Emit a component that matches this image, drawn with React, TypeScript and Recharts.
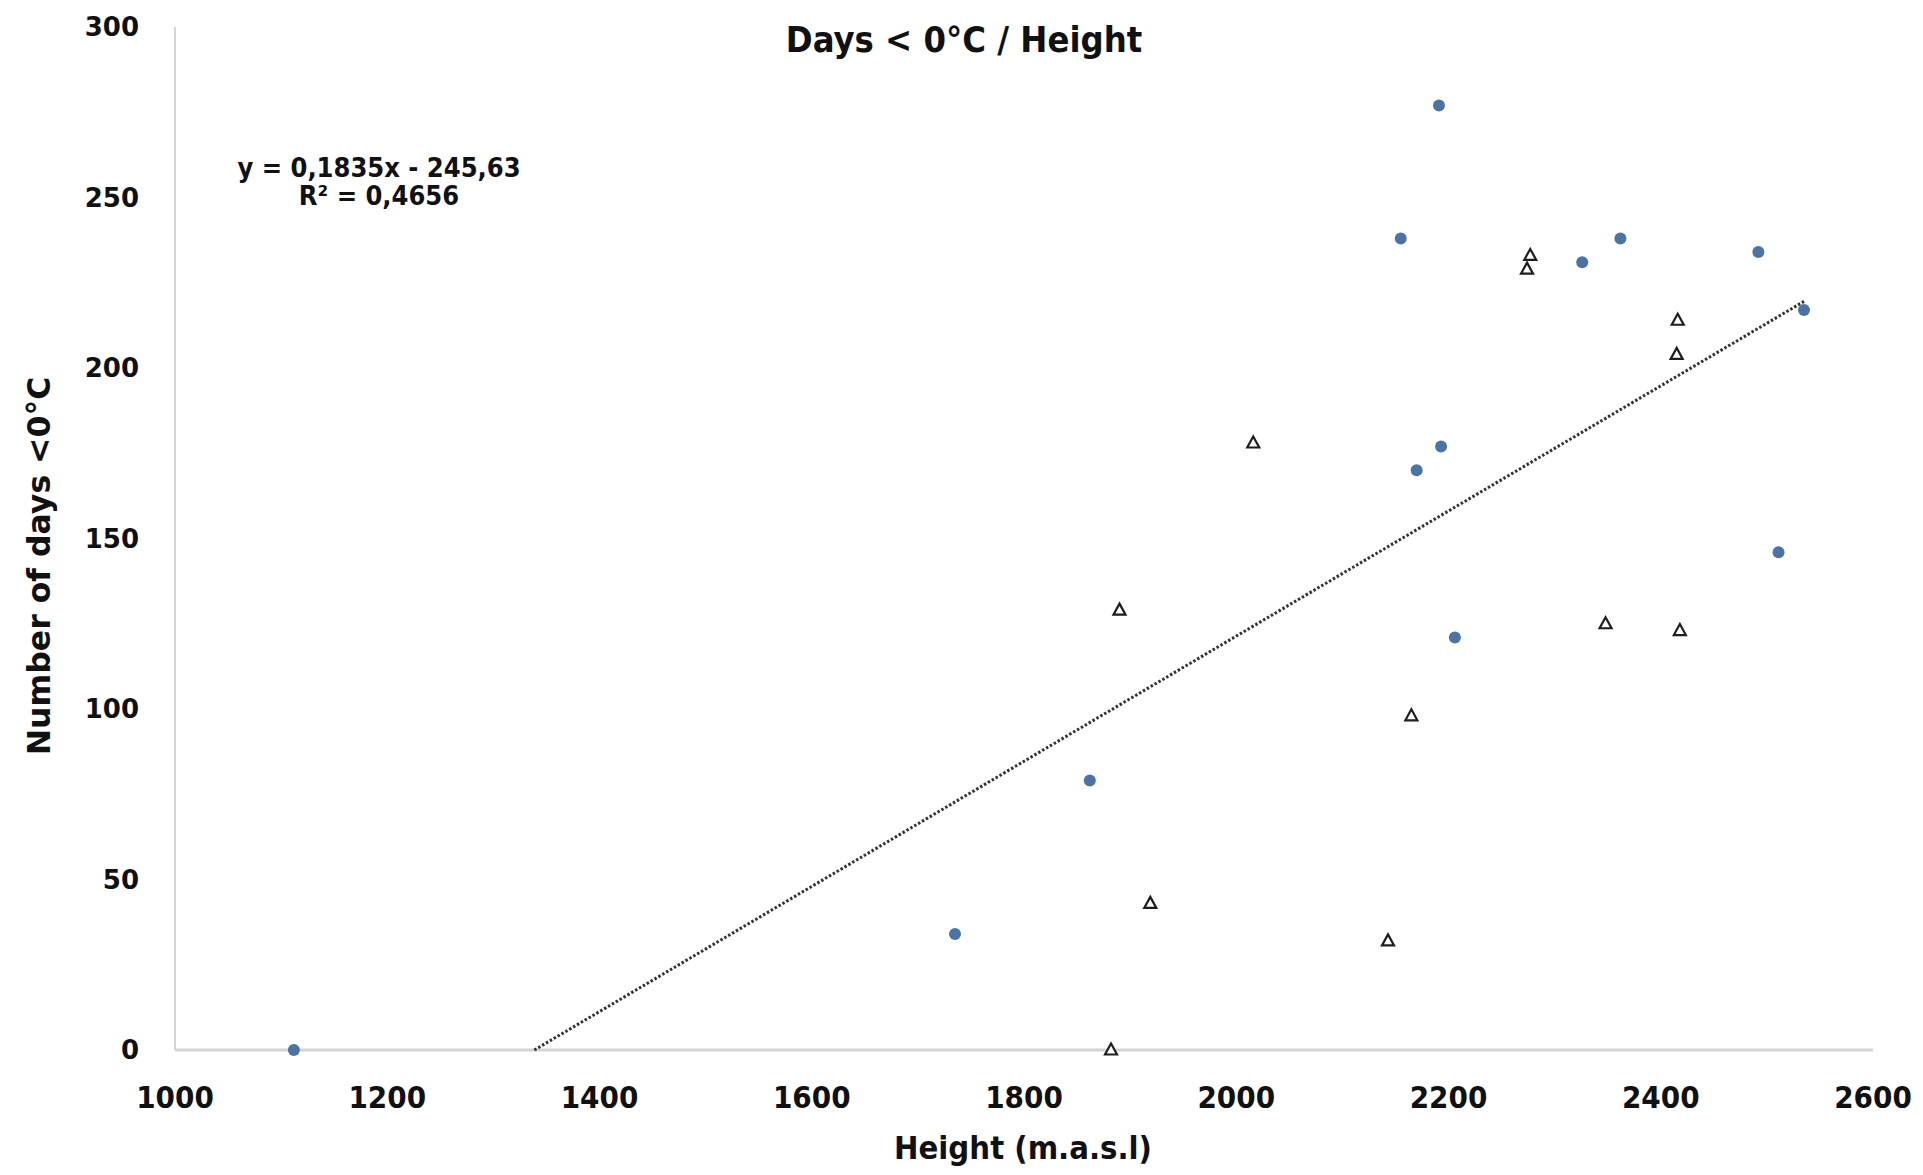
import { ScatterChart, Scatter, XAxis, YAxis } from "recharts";

// station heights (m.a.s.l) and number of days below 0°C
const circleHeights = [1112, 1735, 1862, 2155, 2191, 2170, 2193, 2206, 2326, 2362, 2492, 2511, 2535];
const circleDays = [0, 34, 79, 238, 277, 170, 177, 121, 231, 238, 234, 146, 217];

const triangleHeights = [1882, 1919, 1890, 2016, 2143, 2165, 2274, 2277, 2348, 2416, 2415, 2418];
const triangleDays = [0, 43, 129, 178, 32, 98, 229, 233, 125, 214, 204, 123];

// trendline from the displayed equation y = 0,1835x - 245,63
const trendSlope = 0.1835;
const trendIntercept = -245.63;
const trendRange = [1338.6, 2535];

const xTicks = [1000, 1200, 1400, 1600, 1800, 2000, 2200, 2400, 2600];
const yTicks = [0, 50, 100, 150, 200, 250, 300];

const circles = circleHeights.map((x, i) => ({ x, y: circleDays[i] }));
const triangles = triangleHeights.map((x, i) => ({ x, y: triangleDays[i] }));
const trend = trendRange.map((x) => ({ x, y: trendSlope * x + trendIntercept }));

const wide = "'DejaVu Sans', Verdana, sans-serif";
const narrow = "'DejaVu Sans Condensed', 'Liberation Sans Narrow', 'DejaVu Sans', sans-serif";

function Triangle(props: any) {
  const { cx, cy } = props;
  if (cx == null || cy == null) return <g />;
  return (
    <path
      d={`M${cx},${cy - 6.5} L${cx + 6},${cy + 4.5} L${cx - 6},${cy + 4.5} Z`}
      fill="#fff"
      stroke="#1e1e1e"
      strokeWidth={2.2}
    />
  );
}

function Dot(props: any) {
  const { cx, cy } = props;
  if (cx == null || cy == null) return <g />;
  return <circle cx={cx} cy={cy} r={6} fill="#4a74a5" />;
}

const textBase: React.CSSProperties = {
  position: "absolute",
  transform: "translate(-50%, -50%)",
  whiteSpace: "nowrap",
  fontWeight: "bold",
  color: "#111",
};

export default function App() {
  return (
    <div style={{ position: "absolute", left: 0, top: 0, width: 1923, height: 1175, background: "#fff" }}>
      <ScatterChart width={1923} height={1175} margin={{ top: 27, right: 50, bottom: 0, left: 0 }}>
        <XAxis
          type="number"
          dataKey="x"
          domain={[1000, 2600]}
          ticks={xTicks}
          height={125}
          tickLine={false}
          tickSize={0}
          tickMargin={36}
          axisLine={{ stroke: "#d4d4d4", strokeWidth: 3 }}
          tick={{ fontSize: 31, fontWeight: "bold", fill: "#111", fontFamily: narrow }}
        />
        <YAxis
          type="number"
          dataKey="y"
          domain={[0, 300]}
          ticks={yTicks}
          width={175}
          tickLine={false}
          tickSize={0}
          tickMargin={36}
          axisLine={{ stroke: "#d4d4d4", strokeWidth: 2 }}
          tick={{ fontSize: 26, fontWeight: "bold", fill: "#111", fontFamily: wide }}
        />
        <Scatter
          data={trend}
          line={{ stroke: "#333", strokeWidth: 3, strokeDasharray: "2.5 2" }}
          shape={() => <g />}
          isAnimationActive={false}
        />
        <Scatter data={circles} shape={Dot} isAnimationActive={false} />
        <Scatter data={triangles} shape={Triangle} isAnimationActive={false} />
      </ScatterChart>

      <div style={{ ...textBase, left: 964, top: 39, fontSize: 36, fontFamily: narrow }}>Days &lt; 0°C / Height</div>
      <div style={{ ...textBase, left: 379, top: 182, fontSize: 27, lineHeight: "28px", fontFamily: narrow, textAlign: "center" }}>
        y = 0,1835x - 245,63
        <br />
        R² = 0,4656
      </div>
      <div style={{ ...textBase, left: 39, top: 566, fontSize: 31.5, fontFamily: wide, transform: "translate(-50%, -50%) rotate(-90deg)" }}>
        Number of days &lt;0°C
      </div>
      <div style={{ ...textBase, left: 1023, top: 1148, fontSize: 32.5, fontFamily: narrow }}>Height (m.a.s.l)</div>
    </div>
  );
}
